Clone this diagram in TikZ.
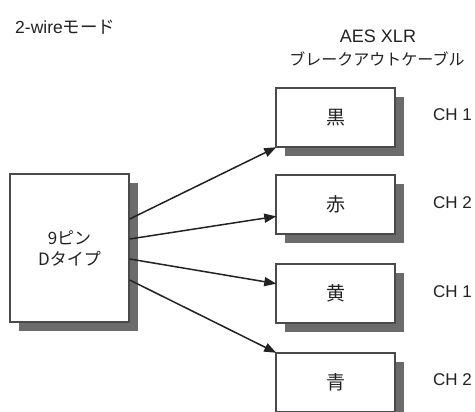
\documentclass[tikz,border=0pt]{standalone}
\usepackage{fontspec}
\setmainfont{Liberation Sans}
\newfontfamily\jp{Noto Sans CJK JP}
\usetikzlibrary{arrows.meta,shadows,calc}
\definecolor{edge}{HTML}{4A4A4A}
\definecolor{shade}{HTML}{6B6B6B}
\definecolor{ink}{HTML}{222222}
\tikzset{
  box/.style={draw=edge, line width=1.4pt, fill=white, minimum width=119pt,
    inner sep=0pt, font=\jp\fontsize{17}{20}\selectfont, text=ink,
    drop shadow={shadow xshift=9pt, shadow yshift=-9pt, opacity=1, fill=shade}},
  chbox/.style={box, minimum height=59pt, font=\jp\fontsize{19}{22}\selectfont},
  wire/.style={draw=ink, line width=1.5pt, -{Triangle[length=12pt,width=9pt]}, shorten >=-1pt},
  label/.style={font=\fontsize{17}{20}\selectfont, text=ink, inner sep=0pt},
}
\begin{document}
\begin{tikzpicture}[x=1pt, y=-1pt]
\useasboundingbox (0,0) rectangle (475,412);
\fill[white] (0,0) rectangle (475,412);

% titles
\node[label, anchor=west, font=\fontsize{17.5}{20}\selectfont] (mode) at (15,27) {2-wire{\jp モード}};
\node[label, font=\fontsize{18}{21}\selectfont] (aes) at (378,36) {AES XLR};
\node[label, font=\jp\fontsize{16}{19}\selectfont] (cable) at (377,59) {ブレークアウトケーブル};

% source connector
\node[box, minimum height=148pt, align=center] (pin) at (69.5,248)
  {9ピン\\[1pt]Dタイプ};

% breakout leads
\node[chbox] (b1) at (335.5,117.5) {黒};
\node[chbox] (b2) at (335.5,204.5) {赤};
\node[chbox] (b3) at (335.5,293.5) {黄};
\node[chbox] (b4) at (335.5,382.5) {青};

% channel labels
\node[label, anchor=west] (c1) at (433,115) {CH 1};
\node[label, anchor=west] (c2) at (433,203) {CH 2};
\node[label, anchor=west] (c3) at (433,292) {CH 1};
\node[label, anchor=west] (c4) at (433,380) {CH 2};

% wires
\draw[wire] ($(pin.east)+(0,-29)$) -- (b1.south west);
\draw[wire] ($(pin.east)+(0,-9)$) -- ($(b2.west)+(0,12)$);
\draw[wire] ($(pin.east)+(0,11)$) -- ($(b3.west)+(0,-10)$);
\draw[wire] ($(pin.east)+(0,32)$) -- (b4.north west);
\end{tikzpicture}
\end{document}
